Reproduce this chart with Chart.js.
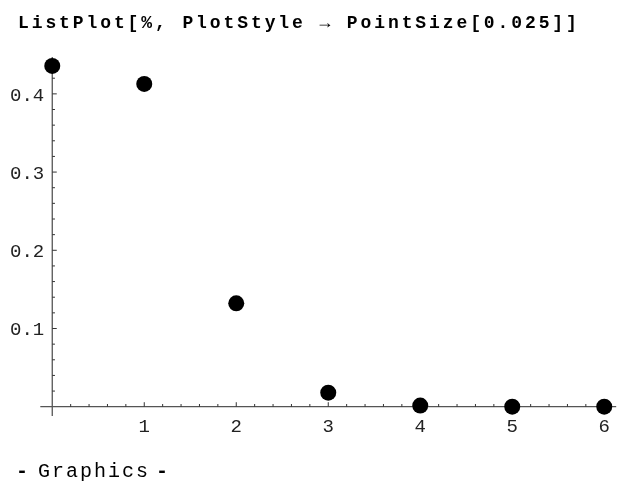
<!DOCTYPE html>
<html>
<head>
<meta charset="utf-8">
<script src="https://cdn.jsdelivr.net/npm/chart.js@4.4.1/dist/chart.umd.min.js"></script>
<style>
  html, body { margin: 0; padding: 0; background: #fff; }
  #wrap { position: relative; width: 618px; height: 483px; overflow: hidden; }
  #chart { position: absolute; left: 0; top: 0; }
  .title {
    position: absolute; left: 18px; top: 12.2px;
    font: bold 18px/22px 'Liberation Mono', 'Courier New', monospace;
    letter-spacing: 2.9px; color: #000; white-space: nowrap;
  }
  .foot {
    position: absolute; left: 0; top: 459.7px; width: 618px; height: 24px;
    font: 20px/24px 'Liberation Mono', 'Courier New', monospace;
    letter-spacing: 2px; color: #000; white-space: nowrap;
  }
  .foot span { position: absolute; top: 0; }
  .foot .d { font-weight: bold; }
</style>
</head>
<body>
<div id="wrap">
  <canvas id="chart" width="618" height="483"></canvas>
  <div class="title">ListPlot[%, PlotStyle → PointSize[0.025]]</div>
  <div class="foot"><span class="d" style="left:16px">-</span><span style="left:38px">Graphics</span><span class="d" style="left:156px">-</span></div>
</div>
<script>
// values
var xValues = [0, 1, 2, 3, 4, 5, 6];
var yValues = [0.4357, 0.4127, 0.1322, 0.0179, 0.0014, 0.0001, 0.0];
var xTickValues = [1, 2, 3, 4, 5, 6];
var xTickLabels = ['1', '2', '3', '4', '5', '6'];
var yTickValues = [0.1, 0.2, 0.3, 0.4];
var yTickLabels = ['0.1', '0.2', '0.3', '0.4'];

var points = xValues.map(function (x, i) { return { x: x, y: yValues[i] }; });

// mathematica style axes crossing at the origin, with minor ticks
var mmaAxes = {
    id: 'mmaAxes',
    beforeDatasetsDraw: function (chart) {
        var ctx = chart.ctx;
        var area = chart.chartArea;
        var xs = chart.scales.x, ys = chart.scales.y;
        var x0 = xs.getPixelForValue(0);
        var y0 = ys.getPixelForValue(0);
        ctx.save();
        ctx.strokeStyle = '#555';
        ctx.lineWidth = 1.3;
        ctx.beginPath();
        ctx.moveTo(area.left, y0); ctx.lineTo(area.right, y0);
        ctx.moveTo(x0, area.top); ctx.lineTo(x0, area.bottom);
        ctx.stroke();

        ctx.lineWidth = 1;
        ctx.strokeStyle = '#333';
        ctx.beginPath();
        for (var i = 1; i <= 30; i++) {
            var px = xs.getPixelForValue(i * 0.2);
            var len = (i % 5 === 0) ? 4.5 : 2.7;
            ctx.moveTo(px, y0); ctx.lineTo(px, y0 - len);
        }
        for (var j = 1; j <= 22; j++) {
            var py = ys.getPixelForValue(j * 0.02);
            var l2 = (j % 5 === 0) ? 4.5 : 2.7;
            ctx.moveTo(x0, py); ctx.lineTo(x0 + l2, py);
        }
        ctx.stroke();

        ctx.fillStyle = '#222';
        ctx.font = "19px 'Liberation Mono', 'Courier New', monospace";
        ctx.textBaseline = 'alphabetic';
        ctx.textAlign = 'center';
        xTickValues.forEach(function (v, k) {
            ctx.fillText(xTickLabels[k], xs.getPixelForValue(v), y0 + 25.3);
        });
        ctx.textAlign = 'right';
        yTickValues.forEach(function (v, k) {
            ctx.fillText(yTickLabels[k], x0 - 8, ys.getPixelForValue(v) + 6.8);
        });
        ctx.restore();
    }
};

var ctx = document.getElementById('chart').getContext('2d');
var myChart = new Chart(ctx, {
    type: 'scatter',
    data: {
        datasets: [{
            label: 'ListPlot',
            data: points,
            backgroundColor: '#000',
            borderColor: '#000',
            pointRadius: 8,
            pointHoverRadius: 8,
            borderWidth: 0,
            clip: false
        }]
    },
    options: {
        responsive: false,
        animation: false,
        events: [],
        layout: { autoPadding: false, padding: { left: 40.3, right: 1.8, top: 57.1, bottom: 66.9 } },
        plugins: { legend: { display: false }, tooltip: { enabled: false } },
        scales: {
            x: { type: 'linear', display: false, min: -0.13, max: 6.13 },
            y: { type: 'linear', display: false, min: -0.012, max: 0.447 }
        }
    },
    plugins: [mmaAxes]
});
</script>
</body>
</html>
